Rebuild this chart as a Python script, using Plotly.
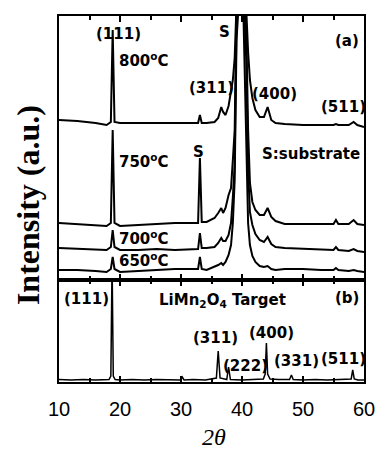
import plotly.graph_objects as go
from plotly.subplots import make_subplots

# ---- data (2theta in degrees, intensity in arbitrary units) ----
x_film = [10, 13, 16, 17.8, 18.5, 18.8, 19.1, 20, 23, 26, 29, 31.5, 32.8, 33.1, 33.4,
          34.2, 35.5, 36.1, 36.6, 36.9, 37.3, 37.8, 38.2, 38.5, 38.8, 39.1, 40.0, 40.7,
          41.0, 41.3, 41.7, 42.2, 42.9, 43.6, 44.2, 44.8, 45.5, 47, 50, 53, 55.0, 55.4,
          55.8, 57.5, 58.3, 58.9, 60]

int_800 = [160, 159, 157, 155, 158, 250, 158, 157, 157, 157, 157, 157, 157, 165, 157,
           157, 158, 162, 173, 168, 165, 174, 188, 200, 222, 275, 330, 270,
           228, 200, 182, 170, 163, 163, 173, 160, 157, 156, 155, 155, 155, 156,
           155, 155, 158, 155, 153]

int_750 = [57, 56, 55, 54, 57, 150, 57, 54, 55, 56, 57, 57, 57, 122, 58,
           58, 62, 67, 72, 67, 72, 85, 92, 120, 150, 270, 330, 250,
           150, 97, 78, 70, 65, 65, 72, 63, 59, 56, 56, 56, 56, 60,
           56, 56, 60, 56, 55]

int_700 = [32, 31, 30, 30, 33, 50, 33, 30, 30, 31, 30, 31, 31, 47, 32,
           32, 33, 37, 42, 39, 39, 45, 57, 83, 115, 260, 330, 220,
           110, 68, 55, 46, 40, 38, 43, 36, 33, 32, 31, 30, 30, 33,
           30, 29, 31, 29, 28]

int_650 = [10, 10, 9, 8, 11, 23, 11, 8, 9, 10, 11, 11, 11, 23, 11,
           10, 13, 15, 17, 15, 18, 25, 35, 57, 100, 240, 330, 150,
           57, 35, 24, 18, 14, 13, 14, 11, 10, 11, 11, 10, 10, 12,
           10, 9, 10, 9, 8]

x_target = [10, 12, 14, 16, 18.2, 18.5, 18.7, 18.9, 19.2, 20, 22, 24, 26, 28, 29.9, 30.2,
            30.5, 32, 34, 35.8, 36.1, 36.4, 37.5, 37.8, 38.1, 40, 42, 43.5, 43.8, 44.0,
            44.2, 44.6, 46, 47.8, 48.1, 48.4, 50, 52, 54, 56, 57.9, 58.15, 58.4, 59, 60]
int_target = [2.5, 2, 2.5, 2, 2.5, 6, 120, 6, 2.5, 2, 2.5, 2, 2.5, 2, 2, 5,
              2, 2.5, 2, 4, 31, 4, 2.5, 15, 2.5, 2, 2.5, 3, 8, 39,
              8, 3, 2.5, 2.5, 7, 2.5, 2, 2.5, 2, 2.5, 3, 12, 3, 2, 2]

x_ticks = [10, 20, 30, 40, 50, 60]

# annotations: (text, x in deg, y in a.u.)
labels_top = [
    ("(111)", 19.8, 246), ("800<sup>o</sup>C", 24.0, 220), ("S", 37.2, 248),
    ("(a)", 57.2, 239), ("(311)", 35.0, 192), ("(400)", 45.4, 186.5),
    ("(511)", 56.7, 173.5), ("S", 32.9, 128), ("750<sup>o</sup>C", 24.0, 119),
    ("S:substrate", 51.3, 126.5), ("700<sup>o</sup>C", 23.9, 42), ("650<sup>o</sup>C", 23.9, 20.5),
]
labels_bottom = [
    ("(111)", 14.5, 83), ("LiMn<sub>2</sub>O<sub>4</sub> Target", 36.85, 81), ("(b)", 57.2, 84),
    ("(311)", 35.6, 44), ("(400)", 44.8, 48.5), ("(222)", 40.5, 16),
    ("(331)", 48.9, 20.5), ("(511)", 56.7, 23),
]

fig = make_subplots(rows=2, cols=1, shared_xaxes=True, vertical_spacing=0,
                    row_heights=[0.7213, 0.2787])

for ys in (int_800, int_750, int_700, int_650):
    fig.add_trace(go.Scatter(x=x_film, y=ys, mode="lines",
                             line=dict(color="black", width=2), showlegend=False),
                  row=1, col=1)
fig.add_trace(go.Scatter(x=x_target, y=int_target, mode="lines",
                         line=dict(color="black", width=1.5), showlegend=False),
              row=2, col=1)

lab_font = dict(family="DejaVu Sans", size=15, color="black", weight="bold")
anns = []
for t, x, y in labels_top:
    anns.append(dict(text="<b>%s</b>" % t, x=x, y=y, xref="x", yref="y",
                     showarrow=False, font=lab_font, xanchor="center", yanchor="middle"))
for t, x, y in labels_bottom:
    anns.append(dict(text="<b>%s</b>" % t, x=x, y=y, xref="x2", yref="y2",
                     showarrow=False, font=lab_font, xanchor="center", yanchor="middle"))
anns.append(dict(text="<b>Intensity (a.u.)</b>", x=-0.1013, y=0.4836, xref="paper",
                 yref="paper", textangle=-90, showarrow=False, xanchor="center",
                 yanchor="middle",
                 font=dict(family="Liberation Serif", size=32, color="black")))
anns.append(dict(text="<i>2θ</i>", x=0.509, y=-0.1516, xref="paper", yref="paper",
                 showarrow=False, xanchor="center", yanchor="middle",
                 font=dict(family="Liberation Serif", size=24, color="black")))

axis_common = dict(range=[10, 60], tickvals=x_ticks, ticks="inside", ticklen=6,
                   tickwidth=1.5, tickcolor="black", showline=True, linecolor="black",
                   linewidth=1.5, mirror="ticks", showgrid=False, zeroline=False,
                   minor=dict(dtick=5, tick0=10, ticks="inside", ticklen=4,
                              tickwidth=1.5, tickcolor="black", showgrid=False))

fig.update_xaxes(**axis_common)
fig.update_xaxes(showticklabels=False, row=1, col=1)
fig.update_xaxes(showticklabels=True, ticklabelstandoff=8,
                 tickfont=dict(family="Liberation Sans", size=20, color="black"),
                 row=2, col=1)
fig.update_yaxes(showticklabels=False, ticks="", showline=True, linecolor="black",
                 linewidth=1.5, mirror=True, showgrid=False, zeroline=False)
fig.update_yaxes(range=[0, 264], row=1, col=1)
fig.update_yaxes(range=[0, 102], row=2, col=1)

fig.update_layout(width=387, height=450, margin=dict(l=59, r=12, t=16, b=68),
                  plot_bgcolor="white", paper_bgcolor="white", annotations=anns)

fig.write_html("out.html")
